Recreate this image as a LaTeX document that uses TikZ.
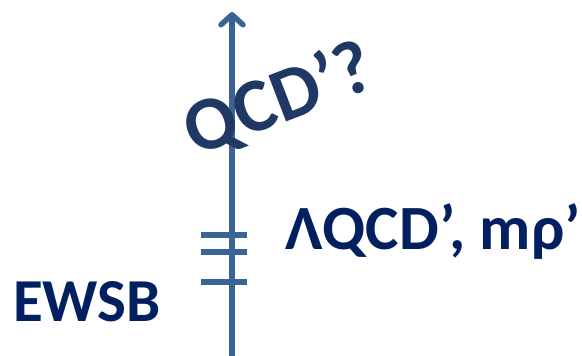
\documentclass[tikz,border=0pt]{standalone}
\usepackage{fontspec}
\setmainfont{Carlito}
\usetikzlibrary{arrows.meta}
\definecolor{axisblue}{HTML}{3A6496}
\definecolor{navy}{HTML}{002060}
\definecolor{slate}{HTML}{1F3864}
\tikzset{
  axisline/.style={draw=axisblue, line width=5.5pt},
  tickline/.style={draw=axisblue, line width=5.5pt},
  lbl/.style={text=navy, font=\bfseries\fontsize{63}{65}\selectfont, inner sep=0pt},
}
\begin{document}
\begin{tikzpicture}[x=1pt,y=1pt]
\useasboundingbox (0,0) rectangle (582,356);
\coordinate (bot) at (232,0);
\coordinate (top) at (232,344);
\draw[axisline, -{Straight Barb[round,length=10pt,width=22pt]}] (bot) -- (top);
\coordinate (t1l) at (201,121); \coordinate (t1r) at (247,121);
\coordinate (t2l) at (201,104); \coordinate (t2r) at (247,104);
\coordinate (t3l) at (201,74);  \coordinate (t3r) at (247,74);
\draw[tickline] (t1l) -- (t1r);
\draw[tickline] (t2l) -- (t2r);
\draw[tickline] (t3l) -- (t3r);
\node[lbl, anchor=base west] (lam) at (285,106) {ΛQCD’, mρ’};
\node[lbl, anchor=base west, font=\bfseries\fontsize{61}{63}\selectfont] (ewsb) at (13,34) {EWSB};
\node[lbl, text=slate, font=\bfseries\fontsize{76}{78}\selectfont, rotate=21] (qcd) at (279,256) {QCD’?};
\end{tikzpicture}
\end{document}
